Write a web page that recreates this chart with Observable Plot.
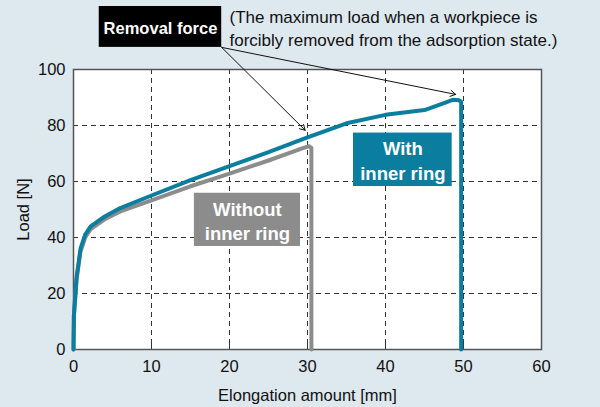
<!DOCTYPE html>
<html><head><meta charset="utf-8">
<script src="https://cdn.jsdelivr.net/npm/d3@7"></script>
<script src="https://cdn.jsdelivr.net/npm/@observablehq/plot@0.6"></script>
<style>
html,body{margin:0;padding:0;background:#dde8ef;}
svg{display:block;}
</style></head><body>
<div id="chart"></div>
<script>
// Series: "With inner ring"
const withX = [0, 0.05, 0.4, 0.9, 1.5, 2.2, 4, 6, 10, 15, 20, 25, 30, 35, 40, 45, 47.5, 48.7, 49.4, 49.7, 49.7];
const withY = [0, 12, 26, 36, 41, 44, 47.5, 50.5, 55, 60.5, 65.5, 70.5, 75.8, 80.8, 83.8, 85.5, 88, 89.2, 89, 88.5, 0];
// Series: "Without inner ring"
const withoutX = [0, 0.05, 0.4, 0.9, 1.5, 2.2, 4, 6, 10, 15, 20, 25, 29.5, 30.2, 30.5, 30.5];
const withoutY = [0, 12, 25, 35, 40, 43, 46.5, 49.3, 53.3, 58.3, 62.8, 67.5, 72, 72.6, 72, 0];

const xTicks = [0, 10, 20, 30, 40, 50, 60];
const yTicks = [0, 20, 40, 60, 80, 100];

// Annotations (data coordinates)
const labelBoxes = [
  {text: "Removal force", x1: 3.3, x2: 19.0, y1: 107.9, y2: 122.5, fill: "black", size: 16.5},
  {text: "With\ninner ring", x1: 35.9, x2: 48.55, y1: 58.2, y2: 77.3, fill: "#0b7ea0", size: 18.5},
  {text: "Without\ninner ring", x1: 15.5, x2: 29.1, y1: 36.8, y2: 55.8, fill: "#8c8c8c", size: 18.5}
];
const noteLines = ["(The maximum load when a workpiece is", "forcibly removed from the adsorption state.)"];
const noteX = [20.0, 20.0];
const noteY = [118.6, 110.4];
const arrowFrom = {x: 19.0, y: 107.9};
const arrowTo = [{x: 29.7, y: 78.3}, {x: 49.0, y: 91.1}];

const withData = withX.map((x, i) => ({x, y: withY[i]}));
const withoutData = withoutX.map((x, i) => ({x, y: withoutY[i]}));
const notes = noteLines.map((t, i) => ({t, x: noteX[i], y: noteY[i]}));
const arrows = arrowTo.map(d => ({x1: arrowFrom.x, y1: arrowFrom.y, x2: d.x, y2: d.y}));

const chart = Plot.plot({
  width: 600,
  height: 407,
  marginLeft: 73,
  marginRight: 59,
  marginTop: 69,
  marginBottom: 58,
  style: {background: "#dde8ef", fontFamily: "Liberation Sans, Arial, sans-serif", fontSize: "16px", color: "#111"},
  x: {domain: [0, 60], ticks: xTicks},
  y: {domain: [0, 100], ticks: yTicks},
  marks: [
    Plot.frame({fill: "white"}),
    Plot.gridX(xTicks, {stroke: "#333", strokeOpacity: 1, strokeDasharray: "5,4", strokeWidth: 1}),
    Plot.gridY(yTicks, {stroke: "#333", strokeOpacity: 1, strokeDasharray: "5,4", strokeWidth: 1}),
    Plot.ruleX(xTicks, {y1: 0, y2: 1.8, stroke: "#333", strokeWidth: 1}),
    Plot.frame({stroke: "#555", strokeWidth: 1.5}),
    Plot.axisX({ticks: xTicks, tickSize: 0, tickPadding: 11, fontSize: 16.5, label: "Elongation amount [mm]", labelAnchor: "center", labelArrow: "none", labelOffset: 51}),
    Plot.axisY({ticks: yTicks, tickSize: 0, tickPadding: 8, fontSize: 16.5, label: "Load [N]", labelAnchor: "center", labelArrow: "none", labelOffset: 56}),
    Plot.line(withoutData, {x: "x", y: "y", stroke: "#8c8c8c", strokeWidth: 4, strokeLinejoin: "round"}),
    Plot.line(withData, {x: "x", y: "y", stroke: "#0b7ea0", strokeWidth: 4, strokeLinejoin: "round"}),
    Plot.rect(labelBoxes, {x1: "x1", x2: "x2", y1: "y1", y2: "y2", fill: "fill", clip: false}),
    Plot.text(labelBoxes, {x: d => (d.x1 + d.x2) / 2, y: d => (d.y1 + d.y2) / 2, text: "text", fill: "white", fontWeight: "bold", fontSize: d => d.size, lineHeight: 1.3, clip: false}),
    Plot.text(notes, {x: "x", y: "y", text: "t", textAnchor: "start", fill: "#111", fontSize: 17, clip: false}),
    Plot.arrow(arrows, {x1: "x1", y1: "y1", x2: "x2", y2: "y2", stroke: "#111", strokeWidth: 1, headLength: 9, clip: false})
  ]
});
document.getElementById("chart").appendChild(chart);
</script>
</body></html>
